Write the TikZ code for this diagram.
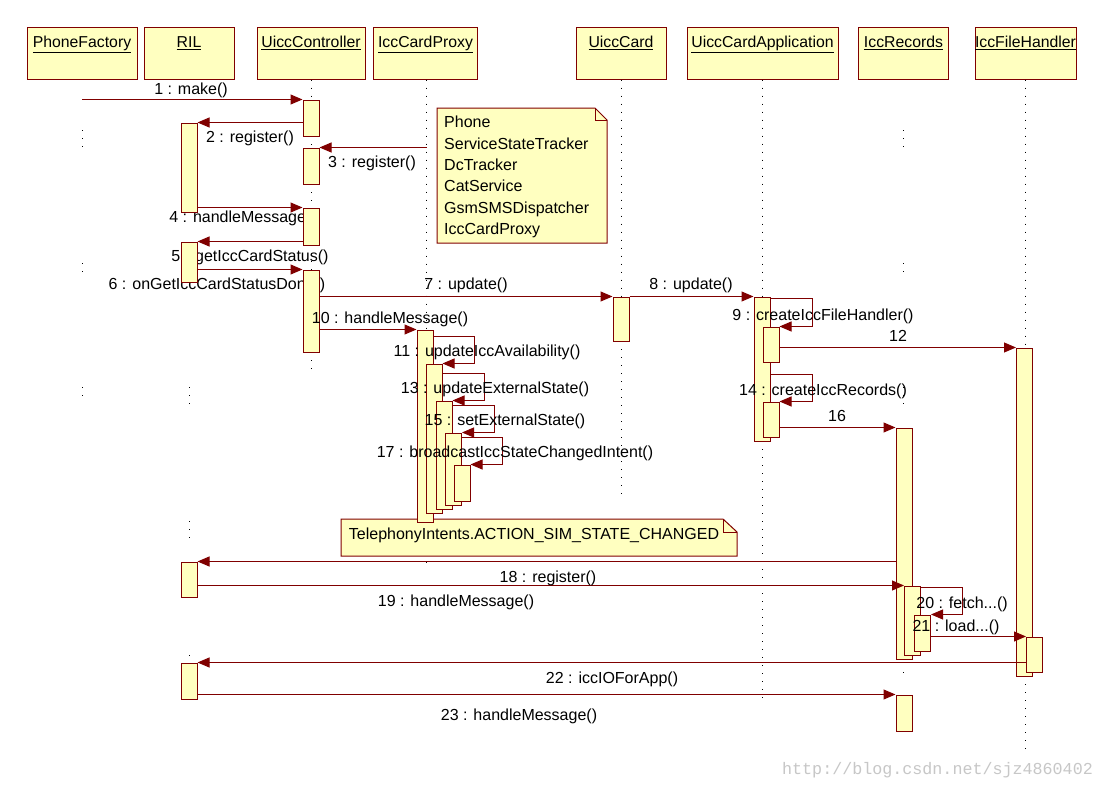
\documentclass[tikz,border=0pt]{standalone}
\usepackage{fontspec}
\setmainfont{Liberation Sans}
\newfontfamily\wmfont{Liberation Mono}
\usetikzlibrary{arrows.meta,calc}
\definecolor{dred}{HTML}{800000}
\definecolor{ylw}{HTML}{FFFFC0}
\tikzset{
  hdr/.style={draw=dred, fill=ylw, line width=1pt, inner sep=0pt, minimum height=52pt},
  htxt/.style={font=\fontsize{15.8}{18}\selectfont, inner sep=0pt, anchor=base},
  act/.style={draw=dred, fill=ylw, line width=1pt, inner sep=0pt, minimum width=16pt},
  msg/.style={draw=dred, line width=1pt, -{Triangle[length=12pt,width=10pt]}},
  lbl/.style={font=\fontsize{16}{19}\selectfont, inner sep=0pt, anchor=base},
  life/.style={black, line width=1pt, dash pattern=on 1pt off 7pt},
  notebox/.style={draw=dred, fill=ylw, line width=1pt, line join=miter},
  ntxt/.style={font=\fontsize{16}{21.4}\selectfont, inner sep=0pt, align=left},
}
\newcommand\actbox[4]{%
  \pgfmathsetmacro\acth{#4-#3}%
  \pgfmathsetmacro\actm{(#3+#4)/2}%
  \node[act, minimum height=\acth pt] (#1) at (#2,\actm) {};}
\begin{document}
\begin{tikzpicture}[x=1pt,y=-1pt]
\fill[white] (0,0) rectangle (1104,787);
\useasboundingbox (0,0) rectangle (1104,787);

% headers
\node[hdr, minimum width=110pt] (hpf) at (82,53) {};
\node[hdr, minimum width=90pt] (hril) at (189,53) {};
\node[hdr, minimum width=108pt] (huc) at (311,53) {};
\node[hdr, minimum width=104pt] (hicp) at (425.5,53) {};
\node[hdr, minimum width=90pt] (hcard) at (621,53) {};
\node[hdr, minimum width=151pt] (happ) at (762.5,53) {};
\node[hdr, minimum width=90pt] (hrec) at (903.5,53) {};
\node[hdr, minimum width=101pt] (hfh) at (1025.5,53) {};
\node[htxt] (tpf) at ([yshift=-21pt]hpf.north) {\underline{PhoneFactory}};
\node[htxt] (tril) at ([yshift=-21pt]hril.north) {\underline{RIL}};
\node[htxt] (tuc) at ([yshift=-21pt]huc.north) {\underline{UiccController}};
\node[htxt] (ticp) at ([yshift=-21pt]hicp.north) {\underline{IccCardProxy}};
\node[htxt] (tcard) at ([yshift=-21pt]hcard.north) {\underline{UiccCard}};
\node[htxt] (tapp) at ([yshift=-21pt]happ.north) {\underline{UiccCardApplication}};
\node[htxt] (trec) at ([yshift=-21pt]hrec.north) {\underline{IccRecords}};
\node[htxt] (tfh) at ([yshift=-21pt]hfh.north) {\underline{IccFileHandler}};

% lifelines (visible dotted pieces)
\draw[life] (hpf.south |- 0,130) -- (hpf.south |- 0,147);
\draw[life] (hpf.south |- 0,263) -- (hpf.south |- 0,279);
\draw[life] (hpf.south |- 0,387) -- (hpf.south |- 0,403);
\draw[life] (hril.south |- 0,263) -- (hril.south |- 0,279);
\draw[life] (hril.south |- 0,387) -- (hril.south |- 0,405);
\draw[life] (hril.south |- 0,521) -- (hril.south |- 0,538);
\draw[life] (hril.south |- 0,655) -- (hril.south |- 0,656);
\draw[life] (huc.south) -- (huc.south |- 0,100);
\draw[life] (huc.south |- 0,136) -- (huc.south |- 0,148);
\draw[life] (huc.south |- 0,184) -- (huc.south |- 0,208);
\draw[life] (huc.south |- 0,245) -- (huc.south |- 0,270);
\draw[life] (huc.south |- 0,352) -- (huc.south |- 0,373);
\draw[life] ([xshift=1pt]hicp.south) -- ([xshift=1pt]hicp.south |- 0,330);
\draw[life] ([xshift=1pt]hicp.south |- 0,522) -- ([xshift=1pt]hicp.south |- 0,569);
\draw[life] (hcard.south) -- (hcard.south |- 0,297);
\draw[life] (hcard.south |- 0,341) -- (hcard.south |- 0,495);
\draw[life] (happ.south) -- (happ.south |- 0,297);
\draw[life] (happ.south |- 0,441) -- (happ.south |- 0,705);
\draw[life] (hrec.south |- 0,130) -- (hrec.south |- 0,147);
\draw[life] (hrec.south |- 0,263) -- (hrec.south |- 0,278);
\draw[life] (hrec.south |- 0,387) -- (hrec.south |- 0,408);
\draw[life] (hrec.south |- 0,672) -- (hrec.south |- 0,673);
\draw[life] (hfh.south) -- (hfh.south |- 0,348);
\draw[life] (hfh.south |- 0,676) -- (hfh.south |- 0,755);

% notes
\draw[notebox] (437,108) -- (595,108) -- (607,120) -- (607,243) -- (437,243) -- cycle;
\draw[dred, line width=1pt] (595,108) -- (595,120) -- (607,120);
\node[ntxt, anchor=north west] (n1) at (444,116) {Phone\\ServiceStateTracker\\DcTracker\\CatService\\GsmSMSDispatcher\\IccCardProxy};
\draw[notebox] (341,519) -- (723,519) -- (737,532) -- (737,556) -- (341,556) -- cycle;
\draw[dred, line width=1pt] (723,519) -- (723,532) -- (737,532);
\node[ntxt, anchor=base] (n2) at (534,539) {TelephonyIntents.ACTION\_SIM\_STATE\_CHANGED};

% labels hidden partly by boxes
\node[lbl] (l4) at (243,222) {4 : handleMessage()};
\node[lbl] (l5) at (250,261) {5 : getIccCardStatus()};
\node[lbl] (l6) at (217,289) {6 : onGetIccCardStatusDone()};

% activation boxes
\actbox{r1}{189}{123}{212}
\actbox{r2}{189}{242}{282}
\actbox{r3}{189}{562}{597}
\actbox{r4}{189}{663}{699}
\actbox{a1}{311}{100}{136}
\actbox{a2}{311}{148}{184}
\actbox{a3}{311}{208}{245}
\actbox{a4}{311}{270}{352}
\actbox{uc}{621}{297}{341}
\actbox{p1}{425}{330}{522}
\actbox{p2}{434}{364}{513}
\actbox{p3}{444}{401}{509}
\actbox{p4}{453.5}{433}{505}
\actbox{p5}{462}{465}{501}
\actbox{u1}{762}{297}{441}
\actbox{u2}{771}{327}{362}
\actbox{u3}{771}{402}{437}
\actbox{f1}{1024.5}{348}{676}
\actbox{f2}{1034.5}{637}{672}
\actbox{i1}{904}{428}{659}
\actbox{i2}{912.5}{586}{655}
\actbox{i3}{922.5}{615}{651}
\actbox{i4}{904}{695}{731}

% messages
\draw[msg] (hpf.south |- a1.north) -- (a1.north west);
\draw[msg] (a1.west |- r1.north) -- (r1.north east);
\draw[msg] ([xshift=1pt]hicp.south |- a2.north) -- (a2.north east);
\draw[msg] (r1.east |- a3.north) -- (a3.north west);
\draw[msg] (a3.west |- r2.north) -- (r2.north east);
\draw[msg] (r2.east |- a4.north) -- (a4.north west);
\draw[msg] (a4.east |- uc.north) -- (uc.north west);
\draw[msg] (uc.north east) -- (u1.north west);
\draw[msg] (a4.east |- p1.north) -- (p1.north west);
\draw[msg] ([yshift=-7pt]p1.north east) -| ([xshift=32pt]p2.north east) -- (p2.north east);
\draw[msg] ([yshift=-10pt]p2.north east) -| ([xshift=32pt]p3.north east) -- (p3.north east);
\draw[msg] ([yshift=-5pt]p3.north east) -| ([xshift=32pt]p4.north east) -- (p4.north east);
\draw[msg] ([yshift=-5pt]p4.north east) -| ([xshift=32pt]p5.north east) -- (p5.north east);
\draw[msg] ([yshift=-2pt]u1.north east) -| ([xshift=33pt]u2.north east) -- (u2.north east);
\draw[msg] (u2.east |- f1.north) -- (f1.north west);
\draw[msg] (u1.east |- 0,374) -| ([xshift=33pt]u3.north east) -- (u3.north east);
\draw[msg] (u3.east |- i1.north) -- (i1.north west);
\draw[msg] (i1.west |- r3.north) -- (r3.north east);
\draw[msg] (r3.east |- i2.north) -- (i2.north west);
\draw[msg] ([yshift=-2pt]i2.north east) -| ([xshift=31pt]i3.north east) -- (i3.north east);
\draw[msg] (i3.east |- f2.north) -- (f2.north west);
\draw[msg] (f2.west |- r4.north) -- (r4.north east);
\draw[msg] (r4.east |- i4.north) -- (i4.north west);

% labels on top
\node[lbl] (l1) at (191,94) {1 : make()};
\node[lbl] (l2) at (250,142) {2 : register()};
\node[lbl] (l3) at (372,167) {3 : register()};
\node[lbl] (l7) at (466,289) {7 : update()};
\node[lbl] (l8) at (691,289) {8 : update()};
\node[lbl] (l10) at (390,323) {10 : handleMessage()};
\node[lbl] (l11) at (487,356) {11 : updateIccAvailability()};
\node[lbl] (l13) at (495,393) {13 : updateExternalState()};
\node[lbl] (l15) at (505,425) {15 : setExternalState()};
\node[lbl] (l17) at (515,457) {17 : broadcastIccStateChangedIntent()};
\node[lbl] (l9) at (823,320) {9 : createIccFileHandler()};
\node[lbl] (l12) at (898,341) {12};
\node[lbl] (l14) at (823,395) {14 : createIccRecords()};
\node[lbl] (l16) at (837,421) {16};
\node[lbl] (l18) at (548,582) {18 : register()};
\node[lbl] (l19) at (456,606) {19 : handleMessage()};
\node[lbl] (l20) at (962,608) {20 : fetch...()};
\node[lbl] (l21) at (956,631) {21 : load...()};
\node[lbl] (l22) at (612,683) {22 : iccIOForApp()};
\node[lbl] (l23) at (519,720) {23 : handleMessage()};

% watermark
\node[font=\wmfont\fontsize{16.7}{20}\selectfont, text=black!22, inner sep=0pt, anchor=base] (wm) at (937.5,774) {http://blog.csdn.net/sjz4860402};
\end{tikzpicture}
\end{document}
